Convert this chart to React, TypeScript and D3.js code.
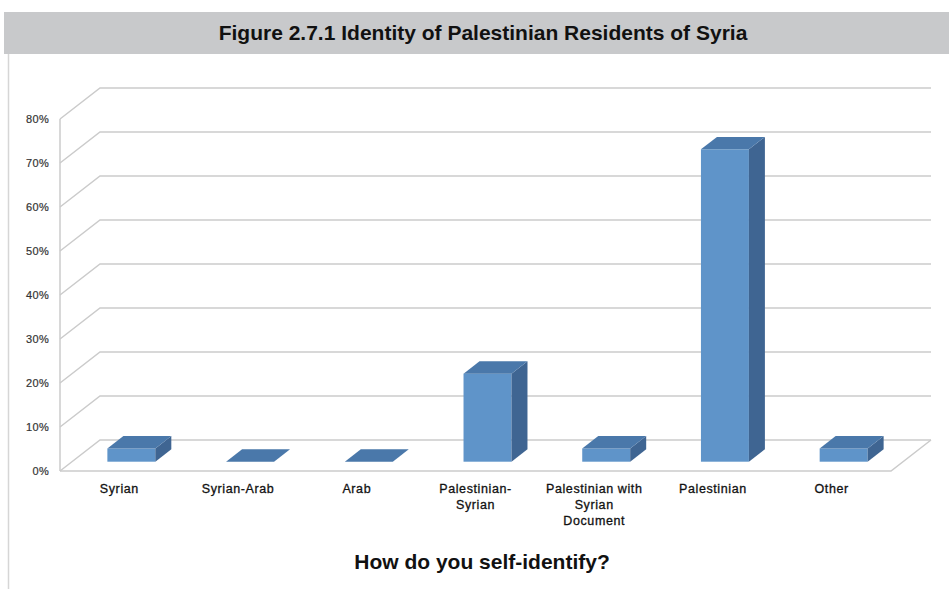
import React from "react";
import * as d3 from "d3";

// survey answers, share of respondents
const categories = [
  ["Syrian"],
  ["Syrian-Arab"],
  ["Arab"],
  ["Palestinian-", "Syrian"],
  ["Palestinian with", "Syrian", "Document"],
  ["Palestinian"],
  ["Other"],
];
const values = [0.03, 0, 0, 0.2, 0.03, 0.71, 0.03];
const ticks = [0, 0.1, 0.2, 0.3, 0.4, 0.5, 0.6, 0.7, 0.8];

const W = 949;
const H = 589;
const FONT = "Arial, 'Liberation Sans', Helvetica, sans-serif";

// 3d look
const depth = { dx: 40, dy: -31 };
const barDepth = [0.3, 0.7];
const colors = { front: "#5f94c9", top: "#4a78aa", side: "#3f6592", grid: "#cbcbcb" };

const pt = (x: number, y: number, d: number) => [x + depth.dx * d, y + depth.dy * d];
const poly = (pts: number[][]) => pts.map((p) => p.join(",")).join(" ");

export default function App() {
  const x = d3
    .scaleBand<number>()
    .domain(d3.range(categories.length))
    .range([60, 891])
    .padding(0);
  const y = d3.scaleLinear().domain([0, 0.8]).range([471, 119]);
  const fmt = d3.format(".0%");
  const barW = x.bandwidth() * 0.404;

  return (
    <svg
      width={W}
      height={H}
      style={{ position: "absolute", left: 0, top: 0, background: "#fff" }}
      fontFamily={FONT}
    >
      {/* header band */}
      <rect x={4} y={12} width={W - 4} height={42} fill="#c8c9cb" />
      <text x={483} y={40} textAnchor="middle" fontSize={21} fontWeight="bold" fill="#111">
        Figure 2.7.1 Identity of Palestinian Residents of Syria
      </text>
      <line x1={8.5} x2={8.5} y1={54} y2={H} stroke="#d6d6d6" strokeWidth={1.5} />

      {/* back wall grid + side wall */}
      {ticks.map((t) => {
        const yf = y(t);
        const [bx, by] = pt(60, yf, 1);
        return (
          <g key={t}>
            <polyline
              points={poly([[60, yf], [bx, by], [931, by]])}
              fill="none"
              stroke={colors.grid}
              strokeWidth={1.5}
            />
            <text
              x={49}
              y={yf + 4}
              textAnchor="end"
              fontSize={11}
              letterSpacing={0.3}
              fill="#333"
              stroke="#333"
              strokeWidth={0.2}
            >
              {fmt(t)}
            </text>
          </g>
        );
      })}
      <line x1={60} x2={60} y1={y(0)} y2={y(0.8)} stroke={colors.grid} strokeWidth={1.5} />
      {/* floor */}
      <polyline
        points={poly([[60, y(0)], [891, y(0)], pt(891, y(0), 1)])}
        fill="none"
        stroke={colors.grid}
        strokeWidth={1.5}
      />

      {/* bars */}
      {values.map((v, i) => {
        const x0 = (x(i) as number) + x.bandwidth() / 2 - barW / 2;
        const x1 = x0 + barW;
        const h = y(0) - y(v);
        const [fx0, fyb] = pt(x0, y(0), barDepth[0]);
        const [fx1] = pt(x1, y(0), barDepth[0]);
        const fyt = fyb - h;
        const dd = barDepth[1] - barDepth[0];
        const ox = depth.dx * dd;
        const oy = depth.dy * dd;
        return (
          <g key={i}>
            {h > 0 && (
              <rect x={fx0} y={fyt} width={fx1 - fx0} height={h} fill={colors.front} />
            )}
            {h > 0 && (
              <polygon
                points={poly([[fx1, fyt], [fx1 + ox, fyt + oy], [fx1 + ox, fyb + oy], [fx1, fyb]])}
                fill={colors.side}
              />
            )}
            <polygon
              points={poly([[fx0, fyt], [fx0 + ox, fyt + oy], [fx1 + ox, fyt + oy], [fx1, fyt]])}
              fill={colors.top}
            />
          </g>
        );
      })}

      {/* category labels */}
      {categories.map((lines, i) => (
        <text
          key={i}
          x={(x(i) as number) + x.bandwidth() / 2}
          y={493}
          textAnchor="middle"
          fontSize={12.5}
          letterSpacing={0.6}
          fill="#111"
          stroke="#111"
          strokeWidth={0.3}
        >
          {lines.map((l, j) => (
            <tspan key={j} x={(x(i) as number) + x.bandwidth() / 2} dy={j === 0 ? 0 : 16}>
              {l}
            </tspan>
          ))}
        </text>
      ))}

      <text x={482} y={569} textAnchor="middle" fontSize={21} fontWeight="bold" fill="#111">
        How do you self-identify?
      </text>
    </svg>
  );
}
